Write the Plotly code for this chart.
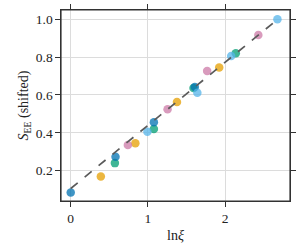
import plotly.graph_objects as go

# data: (ln xi, S_EE shifted) grouped by colour series
blue_dark_x = [0.0, 0.58, 1.077, 1.607]
blue_dark_y = [0.085, 0.274, 0.456, 0.642]
orange_x = [0.39, 0.837, 1.376, 1.923]
orange_y = [0.169, 0.345, 0.563, 0.745]
green_x = [0.572, 1.077, 1.59, 2.138]
green_y = [0.240, 0.420, 0.637, 0.820]
pink_x = [0.74, 1.254, 1.767, 2.43]
pink_y = [0.336, 0.524, 0.726, 0.916]
lightblue_x = [0.993, 1.64, 2.078, 2.677]
lightblue_y = [0.406, 0.611, 0.806, 1.0]

fit_x = [0.0, 2.70]
fit_slope = 1.0 / 3.0
fit_intercept = 0.106
fit_y = [fit_intercept + fit_slope * v for v in fit_x]

series = [
    (blue_dark_x, blue_dark_y, "#0072B2"),
    (orange_x, orange_y, "#E69F00"),
    (green_x, green_y, "#009E73"),
    (pink_x, pink_y, "#CC79A7"),
    (lightblue_x, lightblue_y, "#56B4E9"),
]

fig = go.Figure()
order = [2, 0, 1, 3, 4]
for i in order:
    xs, ys, c = series[i]
    fig.add_trace(go.Scatter(x=xs, y=ys, mode="markers",
                             marker=dict(color=c, size=8.5, opacity=0.75, line=dict(width=0)),
                             showlegend=False))
fig.add_trace(go.Scatter(x=fit_x, y=fit_y, mode="lines",
                         line=dict(color="#5a5a5a", width=1.7, dash="dash"),
                         showlegend=False))

font = "Liberation Serif"
axis_common = dict(showgrid=True, gridcolor="#dcdcdc", gridwidth=0.8,
                   showline=True, linecolor="#333333", linewidth=1.2, mirror="all",
                   ticks="outside", ticklen=4.5, tickwidth=1.1, tickcolor="#333333",
                   zeroline=False, tickfont=dict(family=font, size=13.5, color="#222"))
fig.update_xaxes(range=[-0.126, 2.84], tickvals=[0, 1, 2],
                 title=dict(text="ln<i>ξ</i>", font=dict(family=font, size=14, color="#222"), standoff=5),
                 **axis_common)
fig.update_yaxes(range=[0.04, 1.0485], tickvals=[0.2, 0.4, 0.6, 0.8, 1.0], tickformat=".1f",
                 title=dict(text="<i>S</i><sub>EE</sub> (shifted)", font=dict(family=font, size=14, color="#222"), standoff=3),
                 **axis_common)
fig.add_shape(type="rect", xref="paper", yref="paper", x0=0, y0=0, x1=1, y1=1,
              line=dict(color="#333333", width=1.2), layer="above")
fig.update_layout(width=300, height=250, margin=dict(l=61, r=4, t=5, b=49),
                  plot_bgcolor="white", paper_bgcolor="white")
fig.write_html("out.html", config={"displayModeBar": False},
               post_script="document.body.style.margin='0';document.body.style.padding='0';")
